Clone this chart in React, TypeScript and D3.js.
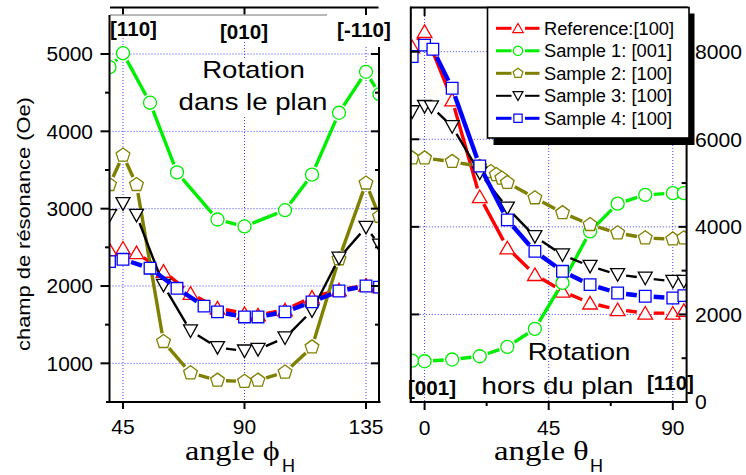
import React from "react";
import * as d3 from "d3";

// ---------- In-plane rotation (angle phi_H) ----------
const phiRef = [40, 45, 50, 60, 70, 80, 90, 95, 105, 115, 125, 135, 140];
const inRef = [2470, 2490, 2430, 2190, 1905, 1715, 1645, 1625, 1690, 1855, 1950, 2010, 1990];
const phiS1 = [40, 45, 55, 65, 80, 90, 105, 115, 125, 135, 140];
const inS1 = [4830, 5010, 4370, 3470, 2860, 2770, 2980, 3440, 4240, 4770, 4480];
const phiS2 = [40, 45, 50, 60, 70, 80, 90, 95, 105, 115, 125, 135, 140];
const inS2 = [3310, 3690, 3310, 1280, 875, 780, 765, 780, 885, 1210, 2350, 3330, 2900];
const phiS3 = [40, 45, 50, 60, 70, 80, 90, 95, 105, 115, 125, 135, 140];
const inS3 = [2910, 3065, 2915, 2010, 1420, 1205, 1160, 1180, 1330, 1680, 2360, 2760, 2530];
const phiS4 = [40, 45, 55, 65, 75, 80, 90, 95, 105, 115, 125, 135, 140];
const inS4 = [2315, 2345, 2230, 1970, 1740, 1665, 1600, 1600, 1665, 1795, 1935, 2000, 1985];

// ---------- Out-of-plane rotation (angle theta_H) ----------
const thRef = [-4.5, 0, 10, 20, 30, 40, 50, 60, 70, 80, 90, 94];
const outRef = [8110, 8460, 6900, 4690, 3520, 2910, 2530, 2260, 2110, 2030, 2030, 2090];
const thS1 = [-4.5, 0, 10, 20, 30, 40, 50, 60, 70, 80, 90, 94];
const outS1 = [945, 930, 970, 1045, 1260, 1670, 2720, 3895, 4530, 4730, 4770, 4770];
const thS2 = [-4.5, 0, 10, 20, 24, 26, 28, 30, 40, 50, 60, 70, 80, 90, 94];
const outS2 = [5570, 5570, 5490, 5380, 5260, 5190, 5110, 5010, 4660, 4320, 4050, 3860, 3745, 3720, 3745];
const thS3 = [-4.5, 0, 2.5, 10, 20, 30, 40, 50, 60, 70, 80, 90, 94];
const outS3 = [6630, 6750, 6740, 6290, 5230, 4430, 3780, 3360, 3100, 2910, 2830, 2755, 2755];
const thS4 = [-4.5, 0, 3, 10, 20, 30, 40, 50, 60, 70, 80, 90, 94];
const outS4 = [7890, 8150, 8055, 7165, 5390, 4160, 3440, 2985, 2680, 2490, 2415, 2375, 2430];

// ---------- labels / ticks ----------
const seriesNames = ["Reference:[100]", "Sample 1: [001]", "Sample 2: [100]", "Sample 3: [100]", "Sample 4: [100]"];
const leftYTicks = [1000, 2000, 3000, 4000, 5000];
const leftYMinor = [1500, 2500, 3500, 4500];
const leftXTicks = [45, 90, 135];
const rightYTicks = [0, 2000, 4000, 6000, 8000];
const rightYMinor = [1000, 3000, 5000, 7000];
const rightXTicks = [0, 45, 90];
const rightXMinor = [22.5, 67.5];

type Kind = "up" | "circle" | "pent" | "down" | "square";
const colors = ["#ff0000", "#00ee00", "#808000", "#000000", "#0000ff"];
const widths = [3.4, 3.4, 3.4, 2.4, 4.4];
const legendWidths = [3, 3, 3, 2, 3];
const kinds: Kind[] = ["up", "circle", "pent", "down", "square"];

const SANS = "'Liberation Sans', Arial, Helvetica, sans-serif";
const SERIF = "'Liberation Serif', 'Times New Roman', serif";

// scales
const xL = d3.scaleLinear().domain([40, 140]).range([109.5, 379.5]);
const yL = d3.scaleLinear().domain([500, 5600]).range([402, 7.6]);
const xR = d3.scaleLinear().domain([-5, 95]).range([410.8, 686.6]);
const yR = d3.scaleLinear().domain([0, 9000]).range([402, 7.9]);

function markerPath(kind: Kind, s: number): string {
  if (kind === "up") return `M0,${-s * 0.95}L${s * 1.05},${s * 0.85}L${-s * 1.05},${s * 0.85}Z`;
  if (kind === "down") return `M${-s},${-s * 0.85}L${s},${-s * 0.85}L0,${s * 0.95}Z`;
  if (kind === "square") { const h = s * 0.83; return `M${-h},${-h}H${h}V${h}H${-h}Z`; }
  if (kind === "pent") {
    const R = s * 1.03;
    const p = d3.range(5).map((k) => {
      const a = (-90 + 72 * k) * Math.PI / 180;
      return `${(R * Math.cos(a)).toFixed(2)},${(R * Math.sin(a)).toFixed(2)}`;
    });
    return "M" + p.join("L") + "Z";
  }
  const r = s * 0.93;
  return `M${-r},0A${r},${r} 0 1,0 ${r},0A${r},${r} 0 1,0 ${-r},0Z`;
}

function T(props: any) {
  const { x, y, size, sx = 1, anchor = "start", weight = "normal", family = SANS, rot = 0, children } = props;
  return (
    <text transform={`translate(${x},${y}) rotate(${rot}) scale(${sx},1)`} fontSize={size}
      textAnchor={anchor} fontWeight={weight} fontFamily={family} fill="#000">{children}</text>
  );
}

function Series({ xs, ys, sx, sy, i }: any) {
  const pts: [number, number][] = xs.map((v: number, k: number) => [sx(v), sy(ys[k])]);
  const gap = 8.5;
  const segs: number[][] = [];
  for (let k = 0; k < pts.length - 1; k++) {
    const [x1, y1] = pts[k];
    const [x2, y2] = pts[k + 1];
    const dx = x2 - x1, dy = y2 - y1, L = Math.hypot(dx, dy);
    if (L <= 2 * gap + 1) continue;
    const ux = dx / L, uy = dy / L;
    segs.push([x1 + ux * gap, y1 + uy * gap, x2 - ux * gap, y2 - uy * gap]);
  }
  const d = markerPath(kinds[i], 7);
  return (
    <g>
      {segs.map((s, k) => (
        <line key={"l" + k} x1={s[0]} y1={s[1]} x2={s[2]} y2={s[3]} stroke={colors[i]} strokeWidth={widths[i]} />
      ))}
      {pts.map((p, k) => (
        <path key={"m" + k} d={d} transform={`translate(${p[0]},${p[1]})`} fill="#fff" stroke={colors[i]} strokeWidth={1.3} />
      ))}
    </g>
  );
}

const grid = { stroke: "#2a2aff", strokeWidth: 0.9, strokeDasharray: "1,2" };
const axis = { stroke: "#000", strokeWidth: 2 };

export default function App() {
  const leftData = [[phiRef, inRef], [phiS1, inS1], [phiS2, inS2], [phiS3, inS3], [phiS4, inS4]];
  const rightData = [[thRef, outRef], [thS1, outS1], [thS2, outS2], [thS3, outS3], [thS4, outS4]];
  const gridTopL: Record<number, number> = { 45: 38, 90: 42, 135: 47 };

  return (
    <svg width={746} height={475} style={{ position: "absolute", left: 0, top: 0, background: "#fff" }}>
      <defs>
        <clipPath id="clipL"><rect x={xL(40)} y={7.5} width={xL(140) - xL(40)} height={402 - 7.5} /></clipPath>
        <clipPath id="clipR"><rect x={xR(-5)} y={7.5} width={xR(95) - xR(-5)} height={402 - 7.5} /></clipPath>
      </defs>
      <rect x={0} y={0} width={746} height={475} fill="#fff" />

      {/* ===== LEFT PANEL ===== */}
      {leftYTicks.map((v) => (
        <line key={"gly" + v} x1={xL(40)} x2={xL(140)} y1={yL(v)} y2={yL(v)} {...grid} />
      ))}
      {leftXTicks.map((v) => (
        <line key={"glx" + v} x1={xL(v)} x2={xL(v)} y1={gridTopL[v]} y2={402} {...grid} />
      ))}
      <rect x={176} y={58} width={155} height={59} fill="#fff" />
      <T x={253.5} y={78} size={23} sx={1.2} anchor="middle">Rotation</T>
      <T x={253} y={110} size={23} sx={1.2} anchor="middle">dans le plan</T>

      <g clipPath="url(#clipL)">
        {leftData.map((d, i) => <Series key={"L" + i} xs={d[0]} ys={d[1]} sx={xL} sy={yL} i={i} />)}
      </g>

      {/* left axes */}
      <line x1={110} x2={378.5} y1={7.5} y2={7.5} {...axis} />
      {leftXTicks.map((v) => <line key={"tt" + v} x1={xL(v)} x2={xL(v)} y1={7.5} y2={15} {...axis} />)}
      <line x1={110} x2={327} y1={15} y2={15} stroke="#a0a0a0" strokeWidth={1.6} />
      <line x1={xL(40)} x2={xL(40)} y1={15} y2={403} {...axis} />
      <line x1={xL(140) - 0.5} x2={xL(140) - 0.5} y1={47} y2={403} {...axis} />
      <line x1={106} x2={380.5} y1={402} y2={402} {...axis} />
      {leftXTicks.map((v) => <line key={"bt" + v} x1={xL(v)} x2={xL(v)} y1={402} y2={409} {...axis} />)}
      {leftYTicks.map((v) => (
        <g key={"yt" + v}>
          <line x1={xL(40) - 9} x2={xL(40)} y1={yL(v)} y2={yL(v)} {...axis} />
          <line x1={xL(140) - 8.5} x2={xL(140)} y1={yL(v)} y2={yL(v)} {...axis} />
        </g>
      ))}
      {leftYMinor.map((v) => (
        <g key={"ym" + v}>
          <line x1={xL(40) - 4.5} x2={xL(40)} y1={yL(v)} y2={yL(v)} {...axis} />
          <line x1={xL(140) - 4.5} x2={xL(140)} y1={yL(v)} y2={yL(v)} {...axis} />
        </g>
      ))}
      {leftYTicks.map((v) => (
        <T key={"ylab" + v} x={93} y={yL(v) + 7.3} size={20.5} sx={1.02} anchor="end">{String(v)}</T>
      ))}
      {leftXTicks.map((v) => (
        <T key={"xlab" + v} x={xL(v)} y={433.5} size={21} anchor="middle">{String(v)}</T>
      ))}
      <T x={110} y={35.5} size={20} sx={1.03} weight="bold">[110]</T>
      <T x={244} y={38.5} size={20} sx={1.03} weight="bold" anchor="middle">[010]</T>
      <T x={364} y={37} size={20} sx={1.03} weight="bold" anchor="middle">[-110]</T>

      <T x={30} y={224} size={19} sx={1.15} rot={-90} anchor="middle">champ de résonance (Oe)</T>
      <T x={185} y={460} size={28} sx={1.15} family={SERIF}>angle ϕ</T>
      <T x={282} y={472} size={18}>H</T>

      {/* ===== RIGHT PANEL ===== */}
      {[2000, 4000, 6000, 8000].map((v) => (
        <line key={"gry" + v} x1={xR(-5)} x2={xR(95)} y1={yR(v)} y2={yR(v)} {...grid} />
      ))}
      {rightXTicks.map((v) => (
        <line key={"grx" + v} x1={xR(v)} x2={xR(v)} y1={16} y2={402} {...grid} />
      ))}

      <g clipPath="url(#clipR)">
        {rightData.map((d, i) => <Series key={"R" + i} xs={d[0]} ys={d[1]} sx={xR} sy={yR} i={i} />)}
      </g>

      <T x={579} y={360} size={23} sx={1.2} anchor="middle">Rotation</T>
      <T x={557.5} y={394} size={23} sx={1.2} anchor="middle">hors du plan</T>
      <T x={408} y={394.5} size={20} sx={1.03} weight="bold">[001]</T>
      <T x={647} y={389.5} size={20} sx={1.03} weight="bold">[110]</T>

      {/* right axes */}
      <line x1={xR(-5)} x2={xR(95)} y1={7.5} y2={7.5} {...axis} />
      {rightXTicks.map((v) => <line key={"rtt" + v} x1={xR(v)} x2={xR(v)} y1={7.5} y2={16} {...axis} />)}
      <line x1={xR(-5)} x2={xR(-5)} y1={6.5} y2={403} {...axis} />
      <line x1={xR(95)} x2={xR(95)} y1={6.5} y2={403} {...axis} />
      <line x1={xR(-5) - 1} x2={xR(95) + 1} y1={402} y2={402} {...axis} />
      {rightXTicks.map((v) => <line key={"rbt" + v} x1={xR(v)} x2={xR(v)} y1={402} y2={410} {...axis} />)}
      {rightXMinor.map((v) => <line key={"rbm" + v} x1={xR(v)} x2={xR(v)} y1={402} y2={406} {...axis} />)}
      {rightYTicks.filter((v) => v > 0).map((v) => (
        <g key={"ryt" + v}>
          <line x1={xR(-5)} x2={xR(-5) + 8.5} y1={yR(v)} y2={yR(v)} {...axis} />
          <line x1={xR(95) - 8} x2={xR(95)} y1={yR(v)} y2={yR(v)} {...axis} />
        </g>
      ))}
      {rightYMinor.map((v) => (
        <line key={"rym" + v} x1={xR(95) - 5} x2={xR(95)} y1={yR(v)} y2={yR(v)} {...axis} />
      ))}
      {rightYTicks.map((v) => (
        <T key={"rylab" + v} x={695} y={yR(v) + 7.3} size={20.5} sx={1.03}>{String(v)}</T>
      ))}
      {rightXTicks.map((v) => (
        <T key={"rxlab" + v} x={xR(v)} y={435} size={21} anchor="middle">{String(v)}</T>
      ))}
      <T x={494} y={460} size={28} sx={1.17} family={SERIF}>angle θ</T>
      <T x={590} y={472} size={18}>H</T>

      {/* ===== LEGEND ===== */}
      <rect x={493.5} y={13.5} width={201} height={131.5} fill="#000" />
      <rect x={487.5} y={7.5} width={201.5} height={130.5} fill="#fff" stroke="#000" strokeWidth={1.6} />
      {seriesNames.map((name, i) => {
        const cy = 28.3 + i * 22.5;
        return (
          <g key={"leg" + i}>
            <line x1={496} x2={511.5} y1={cy} y2={cy} stroke={colors[i]} strokeWidth={legendWidths[i]} />
            <line x1={525} x2={539.5} y1={cy} y2={cy} stroke={colors[i]} strokeWidth={legendWidths[i]} />
            <path d={markerPath(kinds[i], 5)} transform={`translate(518,${cy})`} fill="#fff" stroke={colors[i]} strokeWidth={1.2} />
            <T x={544} y={cy + 6.5} size={18.3}>{name}</T>
          </g>
        );
      })}
    </svg>
  );
}
